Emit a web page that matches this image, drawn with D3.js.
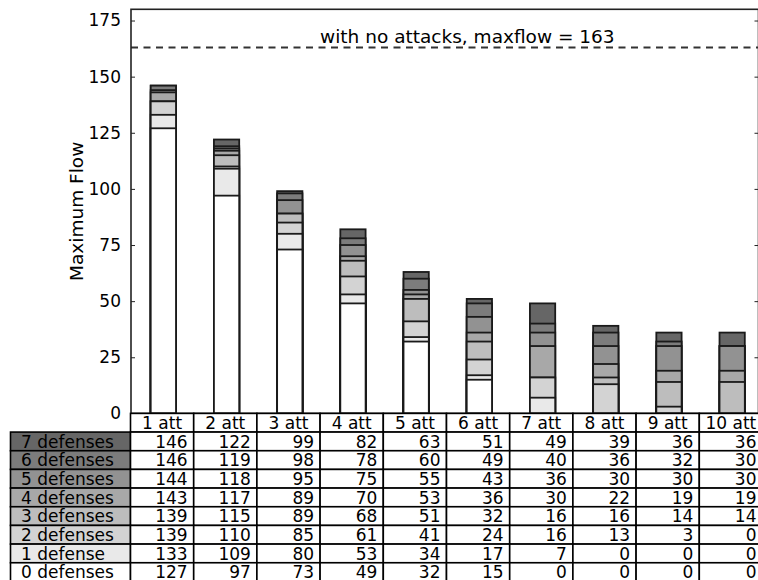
<!DOCTYPE html>
<html>
<head>
<meta charset="utf-8">
<script src="https://cdn.jsdelivr.net/npm/d3@7"></script>
<style>
  body { margin: 0; background: #fff; }
  svg { display: block; font-family: "DejaVu Sans", sans-serif; }
</style>
</head>
<body>
<script>
/***********************************************************************************/
// Data

var columns = ['1 att', '2 att', '3 att', '4 att', '5 att', '6 att', '7 att', '8 att', '9 att', '10 att'];
var rowLabels = ['0 defenses', '1 defense', '2 defenses', '3 defenses', '4 defenses', '5 defenses', '6 defenses', '7 defenses'];
var def0 = [127, 97, 73, 49, 32, 15, 0, 0, 0, 0];
var def1 = [133, 109, 80, 53, 34, 17, 7, 0, 0, 0];
var def2 = [139, 110, 85, 61, 41, 24, 16, 13, 3, 0];
var def3 = [139, 115, 89, 68, 51, 32, 16, 16, 14, 14];
var def4 = [143, 117, 89, 70, 53, 36, 30, 22, 19, 19];
var def5 = [144, 118, 95, 75, 55, 43, 36, 30, 30, 30];
var def6 = [146, 119, 98, 78, 60, 49, 40, 36, 32, 30];
var def7 = [146, 122, 99, 82, 63, 51, 49, 39, 36, 36];
var series = [def0, def1, def2, def3, def4, def5, def6, def7];
var yTicks = [0, 25, 50, 75, 100, 125, 150, 175];
var noAttack = 163;
var noAttackLabel = 'with no attacks, maxflow = ' + noAttack;

/***********************************************************************************/
// Setup

var W = 758, H = 580;
var axL = 131, axR = 758.5, axT = 9.3, axB = 413.4;
var rowH = 18.67;

var svg = d3.select('body').append('svg').attr('width', W).attr('height', H);

var x = d3.scaleLinear().domain([0, 10]).range([130.5, 762.5]);
var y = d3.scaleLinear().domain([0, 180]).range([axB, axT]);
var gray = d3.scaleLinear().domain([0, 7]).range([255, 102]);
function fill(k){ var g = Math.round(gray(k)); return d3.rgb(g, g, g); }

/***********************************************************************************/
// Bars (tallest first, smaller ones drawn over)

var bw = x(0.4) - x(0);
for (var k = series.length - 1; k >= 0; k--) {
  svg.append('g').selectAll('rect').data(series[k]).enter().append('rect')
    .attr('x', function(d, i){ return x(i + 0.32); })
    .attr('y', function(d){ return y(d); })
    .attr('width', bw)
    .attr('height', function(d){ return y(0) - y(d); })
    .attr('fill', fill(k))
    .attr('stroke', '#1a1a1a')
    .attr('stroke-width', 1.8);
}

/***********************************************************************************/
// Dashed line + label

svg.append('line')
  .attr('x1', axL).attr('x2', axR)
  .attr('y1', y(noAttack)).attr('y2', y(noAttack))
  .attr('stroke', '#333').attr('stroke-width', 2)
  .attr('stroke-dasharray', '7,5.5');

svg.append('text')
  .attr('x', x(3)).attr('y', y(165))
  .attr('font-size', 18.5)
  .text(noAttackLabel);

/***********************************************************************************/
// Axes frame and ticks

svg.append('rect')
  .attr('x', axL).attr('y', axT)
  .attr('width', axR - axL).attr('height', axB - axT)
  .attr('fill', 'none').attr('stroke', '#222').attr('stroke-width', 1.6);

var yl = d3.axisLeft(y).tickValues(yTicks).tickSizeInner(-4).tickSizeOuter(0).tickPadding(10);
var gy = svg.append('g').attr('transform', 'translate(' + axL + ',0)').call(yl);
gy.select('.domain').remove();
gy.selectAll('text').attr('font-size', 17).attr('font-family', 'DejaVu Sans').attr('fill', '#000');
gy.selectAll('line').attr('stroke', '#222');

var yr = d3.axisRight(y).tickValues(yTicks).tickSizeInner(-4).tickSizeOuter(0).tickFormat('');
var gr = svg.append('g').attr('transform', 'translate(' + axR + ',0)').call(yr);
gr.select('.domain').remove();
gr.selectAll('line').attr('stroke', '#222');

svg.append('text')
  .attr('transform', 'translate(83,' + ((axT + axB) / 2) + ') rotate(-90)')
  .attr('text-anchor', 'middle')
  .attr('font-size', 18.5)
  .text('Maximum Flow');

/***********************************************************************************/
// Table

var tbl = svg.append('g');
var cw = x(1) - x(0);

// header row
var hdr = tbl.selectAll('.hdr').data(columns).enter().append('g');
hdr.append('rect')
  .attr('x', function(d, i){ return x(i); }).attr('y', axB)
  .attr('width', cw).attr('height', rowH)
  .attr('fill', '#fff').attr('stroke', '#000').attr('stroke-width', 1.6);
hdr.append('text')
  .attr('x', function(d, i){ return x(i + 0.5); })
  .attr('y', axB + rowH / 2 + 6.2)
  .attr('text-anchor', 'middle').attr('font-size', 17)
  .text(function(d){ return d; });

// body rows, 7 defenses on top
var order = d3.range(series.length).reverse();
order.forEach(function(k, r){
  var ry = axB + rowH * (r + 1);
  tbl.append('rect')
    .attr('x', 10.5).attr('y', ry).attr('width', x(0) - 10.5).attr('height', rowH)
    .attr('fill', fill(k)).attr('stroke', '#000').attr('stroke-width', 1.6);
  tbl.append('text')
    .attr('x', 21).attr('y', ry + rowH / 2 + 6.2)
    .attr('font-size', 17).text(rowLabels[k]);
  var cells = tbl.append('g').selectAll('g').data(series[k]).enter().append('g');
  cells.append('rect')
    .attr('x', function(d, i){ return x(i); }).attr('y', ry)
    .attr('width', cw).attr('height', rowH)
    .attr('fill', '#fff').attr('stroke', '#000').attr('stroke-width', 1.6);
  cells.append('text')
    .attr('x', function(d, i){ return x(i + 1) - 6; })
    .attr('y', ry + rowH / 2 + 6.2)
    .attr('text-anchor', 'end').attr('font-size', 17)
    .text(function(d){ return d; });
});
</script>
</body>
</html>
